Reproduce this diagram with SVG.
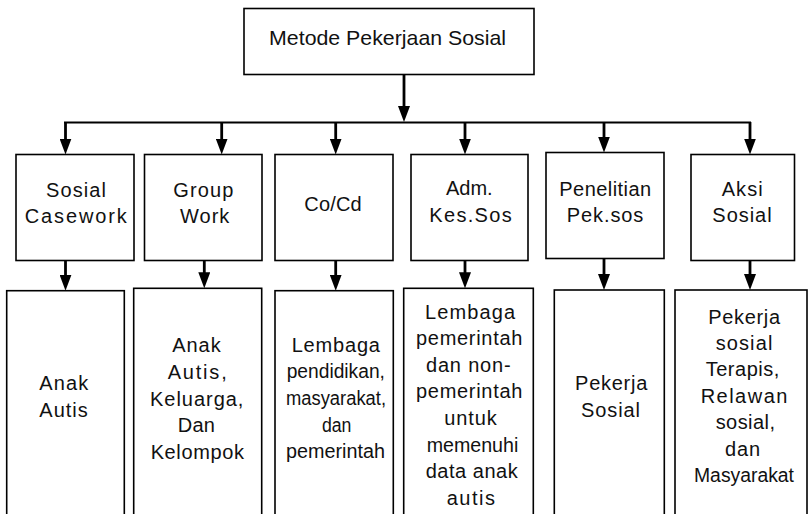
<svg xmlns="http://www.w3.org/2000/svg" width="812" height="514" viewBox="0 0 812 514">
<style>
.box{fill:#fff;stroke:#000;stroke-width:1.6}
.t{font-family:"Liberation Sans",Arial,sans-serif;font-size:20px;fill:#111;text-anchor:middle}
.big{font-size:21px}
.c{stroke:#000;fill:none}
.stem{stroke-width:2.8}
.bar{stroke-width:2}
</style>
<defs>
<marker id="ah" viewBox="0 0 16 12" markerWidth="16" markerHeight="12" refX="4" refY="6" orient="auto" markerUnits="userSpaceOnUse">
<path d="M0,0 L16,6 L0,12 z" fill="#000"/>
</marker>
</defs>
<rect width="812" height="514" fill="#fff"/>
<g id="connectors">
<line class="c stem" x1="404" y1="74" x2="404" y2="110" marker-end="url(#ah)"/>
<line class="c bar" x1="64" y1="122.5" x2="751" y2="122.5"/>
<line class="c stem" x1="65.5" y1="122" x2="65.5" y2="142.5" marker-end="url(#ah)"/>
<line class="c stem" x1="221.7" y1="122" x2="221.7" y2="142.5" marker-end="url(#ah)"/>
<line class="c stem" x1="335.7" y1="122" x2="335.7" y2="142.5" marker-end="url(#ah)"/>
<line class="c stem" x1="465" y1="122" x2="465" y2="142.5" marker-end="url(#ah)"/>
<line class="c stem" x1="604" y1="122" x2="604" y2="140.5" marker-end="url(#ah)"/>
<line class="c stem" x1="750" y1="122" x2="750" y2="142.5" marker-end="url(#ah)"/>
<line class="c stem" x1="65.5" y1="257" x2="65.5" y2="278.7" marker-end="url(#ah)"/>
<line class="c stem" x1="204.3" y1="257" x2="204.3" y2="276.3" marker-end="url(#ah)"/>
<line class="c stem" x1="335.7" y1="257" x2="335.7" y2="278.7" marker-end="url(#ah)"/>
<line class="c stem" x1="465" y1="257" x2="465" y2="276.3" marker-end="url(#ah)"/>
<line class="c stem" x1="604" y1="255" x2="604" y2="278" marker-end="url(#ah)"/>
<line class="c stem" x1="750" y1="257" x2="750" y2="278" marker-end="url(#ah)"/>
</g>
<g id="n-top">
<rect class="box" x="244" y="8.5" width="290" height="66"/>
<text class="t big" x="387.6" y="45" textLength="237" lengthAdjust="spacingAndGlyphs">Metode Pekerjaan Sosial</text>
</g>
<g id="n-casework">
<rect class="box" x="16" y="154.5" width="118" height="106"/>
<text class="t" x="76" y="196.7" textLength="60" lengthAdjust="spacing">Sosial</text>
<text class="t" x="75.8" y="223.3" textLength="102" lengthAdjust="spacing">Casework</text>
</g>
<g id="n-groupwork">
<rect class="box" x="144.5" y="154.5" width="117.5" height="106"/>
<text class="t" x="203.3" y="196.7" textLength="60" lengthAdjust="spacing">Group</text>
<text class="t" x="204.7" y="223.3" textLength="49.3" lengthAdjust="spacing">Work</text>
</g>
<g id="n-cocd">
<rect class="box" x="275" y="154.5" width="118" height="106"/>
<text class="t" x="333" y="210.7" textLength="57.3" lengthAdjust="spacing">Co/Cd</text>
</g>
<g id="n-adm">
<rect class="box" x="411" y="154.5" width="117" height="106"/>
<text class="t" x="469.3" y="195" textLength="46.7" lengthAdjust="spacing">Adm.</text>
<text class="t" x="470.5" y="221.7" textLength="82.3" lengthAdjust="spacing">Kes.Sos</text>
</g>
<g id="n-penelitian">
<rect class="box" x="546" y="152.5" width="118" height="106"/>
<text class="t" x="605.2" y="195.7" textLength="91.7" lengthAdjust="spacing">Penelitian</text>
<text class="t" x="605" y="221.7" textLength="76.7" lengthAdjust="spacing">Pek.sos</text>
</g>
<g id="n-aksi">
<rect class="box" x="691" y="154.5" width="103.5" height="106"/>
<text class="t" x="742.2" y="195.7" textLength="41" lengthAdjust="spacing">Aksi</text>
<text class="t" x="742" y="221.7" textLength="59.3" lengthAdjust="spacing">Sosial</text>
</g>
<g id="n-t1">
<rect class="box" x="6.7" y="290.7" width="117.6" height="240"/>
<text class="t" x="63.8" y="390" textLength="49" lengthAdjust="spacing">Anak</text>
<text class="t" x="63.5" y="416.7" textLength="48.3" lengthAdjust="spacing">Autis</text>
</g>
<g id="n-t2">
<rect class="box" x="133.7" y="288.3" width="128" height="240"/>
<text class="t" x="196.5" y="351.7" textLength="48.3" lengthAdjust="spacing">Anak</text>
<text class="t" x="197.2" y="379" textLength="59" lengthAdjust="spacing">Autis,</text>
<text class="t" x="196.7" y="405.7" textLength="93.3" lengthAdjust="spacing">Keluarga,</text>
<text class="t" x="196.3" y="432.3" textLength="37.3" lengthAdjust="spacing">Dan</text>
<text class="t" x="197.3" y="459" textLength="93.3" lengthAdjust="spacing">Kelompok</text>
</g>
<g id="n-t3">
<rect class="box" x="275" y="290.7" width="118.3" height="240"/>
<text class="t" x="335.8" y="351.7" textLength="88.3" lengthAdjust="spacing">Lembaga</text>
<text class="t" x="335.8" y="378.3" textLength="98.3" lengthAdjust="spacingAndGlyphs">pendidikan,</text>
<text class="t" x="336" y="405" textLength="100" lengthAdjust="spacingAndGlyphs">masyarakat,</text>
<text class="t" x="336.7" y="431.7" textLength="29.5" lengthAdjust="spacingAndGlyphs">dan</text>
<text class="t" x="335.5" y="458.3" textLength="99" lengthAdjust="spacingAndGlyphs">pemerintah</text>
</g>
<g id="n-t4">
<rect class="box" x="403.7" y="288.3" width="129.6" height="240"/>
<text class="t" x="470" y="318.5" textLength="90" lengthAdjust="spacing">Lembaga</text>
<text class="t" x="469.2" y="345.1" textLength="106.3" lengthAdjust="spacing">pemerintah</text>
<text class="t" x="468.3" y="371.7" textLength="84.7" lengthAdjust="spacing">dan non-</text>
<text class="t" x="469.2" y="398.3" textLength="106.3" lengthAdjust="spacing">pemerintah</text>
<text class="t" x="470.5" y="424.9" textLength="52.3" lengthAdjust="spacing">untuk</text>
<text class="t" x="472.5" y="451.5" textLength="91.7" lengthAdjust="spacingAndGlyphs">memenuhi</text>
<text class="t" x="471.7" y="478.1" textLength="92" lengthAdjust="spacing">data anak</text>
<text class="t" x="470.8" y="504.7" textLength="48.3" lengthAdjust="spacing">autis</text>
</g>
<g id="n-t5">
<rect class="box" x="554.3" y="290" width="110" height="240"/>
<text class="t" x="611.2" y="390" textLength="72.3" lengthAdjust="spacing">Pekerja</text>
<text class="t" x="610.5" y="416.7" textLength="59" lengthAdjust="spacing">Sosial</text>
</g>
<g id="n-t6">
<rect class="box" x="675" y="290" width="132" height="240"/>
<text class="t" x="744.2" y="323.5" textLength="71.7" lengthAdjust="spacing">Pekerja</text>
<text class="t" x="744" y="349.9" textLength="56.7" lengthAdjust="spacing">sosial</text>
<text class="t" x="742.5" y="376.3" textLength="73.7" lengthAdjust="spacing">Terapis,</text>
<text class="t" x="744" y="402.7" textLength="86.7" lengthAdjust="spacing">Relawan</text>
<text class="t" x="745.3" y="429.1" textLength="59.3" lengthAdjust="spacing">sosial,</text>
<text class="t" x="742.5" y="455.5" textLength="35" lengthAdjust="spacing">dan</text>
<text class="t" x="744" y="481.9" textLength="100" lengthAdjust="spacingAndGlyphs">Masyarakat</text>
</g>
</svg>
